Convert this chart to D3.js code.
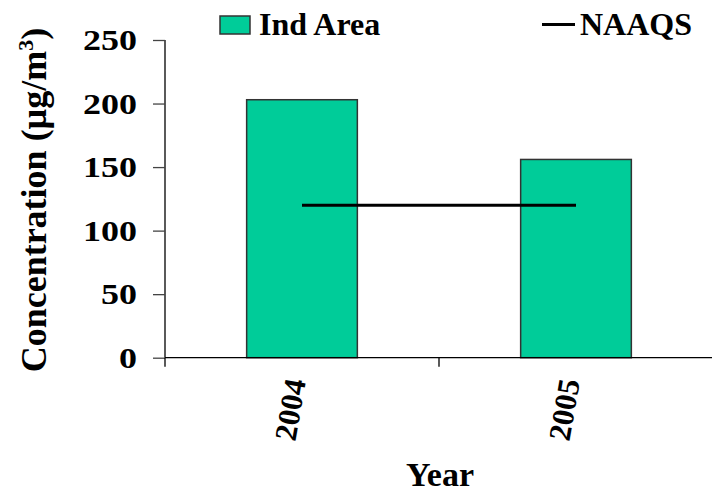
<!DOCTYPE html>
<html>
<head>
<meta charset="utf-8">
<script src="https://cdn.jsdelivr.net/npm/d3@7"></script>
<style>
  html, body { margin: 0; padding: 0; background: #fff; }
  svg { display: block; }
  text { font-family: "Liberation Serif", "Times New Roman", serif; font-weight: bold; fill: #000; }
</style>
</head>
<body>
<svg id="chart" width="712" height="494"></svg>
<script>
const years = ["2004", "2005"];
const indArea = [203, 156];
const naaqs = [120, 120];
const yTicks = [0, 50, 100, 150, 200, 250];
const seriesNames = ["Ind Area", "NAAQS"];
const yTitle = "Concentration (µg/m";
const xTitle = "Year";

const svg = d3.select("#chart");
const barColor = "#00CC99";

const x = d3.scaleBand().domain(years).range([165, 713]).padding(0);
const y = d3.scaleLinear().domain([0, 250]).range([357.7, 40]);
const barW = x.bandwidth() * 0.404;

// bars
svg.selectAll("rect.bar").data(years).enter().append("rect")
  .attr("class", "bar")
  .attr("x", d => x(d) + x.bandwidth() / 2 - barW / 2)
  .attr("y", (d, i) => y(indArea[i]))
  .attr("width", barW)
  .attr("height", (d, i) => y(0) - y(indArea[i]))
  .attr("fill", barColor)
  .attr("stroke", "#333")
  .attr("stroke-width", 1.5);

// NAAQS line
const line = d3.line()
  .x((d, i) => x(years[i]) + x.bandwidth() / 2)
  .y(d => y(d));
svg.append("path").datum(naaqs)
  .attr("d", line)
  .attr("fill", "none")
  .attr("stroke", "#000")
  .attr("stroke-width", 3);

// y axis
const yAxis = d3.axisLeft(y).tickValues(yTicks).tickSize(12).tickFormat("");
const gy = svg.append("g").attr("transform", "translate(165,0)").call(yAxis);
gy.select(".domain").attr("stroke", "#000").attr("stroke-width", 1.3).attr("d", `M0,${y(250)}V${y(0)}`);
gy.selectAll(".tick line").attr("stroke", "#444").attr("stroke-width", 1.3);

svg.selectAll("text.ytick").data(yTicks).enter().append("text")
  .attr("class", "ytick")
  .attr("transform", d => `translate(137,${y(d)}) scale(1.2,1)`)
  .attr("text-anchor", "end")
  .attr("dy", "0.34em")
  .style("font-size", "30px")
  .text(d => d);

// x axis
const gx = svg.append("g").attr("transform", `translate(0,${y(0)})`);
gx.append("line").attr("x1", 165).attr("x2", 712).attr("y1", 0).attr("y2", 0)
  .attr("stroke", "#000").attr("stroke-width", 1.3);
gx.selectAll("line.xt").data(years).enter().append("line")
  .attr("class", "xt")
  .attr("x1", d => x(d)).attr("x2", d => x(d))
  .attr("y1", 0).attr("y2", 9)
  .attr("stroke", "#000").attr("stroke-width", 1.3);

svg.selectAll("text.xtick").data(years).enter().append("text")
  .attr("class", "xtick")
  .attr("transform", d => `translate(${x(d) + x.bandwidth() / 2 + 4},381) rotate(-80)`)
  .attr("text-anchor", "end")
  .style("font-size", "31px")
  .text(d => d);

// axis titles
svg.append("text")
  .attr("x", 440).attr("y", 486)
  .attr("text-anchor", "middle")
  .style("font-size", "34px")
  .text(xTitle);

const yt = svg.append("text")
  .attr("transform", "translate(46,200) rotate(-90)")
  .attr("text-anchor", "middle")
  .style("font-size", "36px");
yt.append("tspan").text(yTitle);
yt.append("tspan").attr("dy", -13).style("font-size", "22px").text("3");
yt.append("tspan").attr("dy", 13).text(")");

// legend
svg.append("rect")
  .attr("x", 220).attr("y", 16).attr("width", 30).attr("height", 18)
  .attr("fill", barColor).attr("stroke", "#333").attr("stroke-width", 1.5);
svg.append("text").attr("x", 259).attr("y", 35).style("font-size", "32px").text(seriesNames[0]);
svg.append("line").attr("x1", 542).attr("x2", 575).attr("y1", 24.5).attr("y2", 24.5)
  .attr("stroke", "#000").attr("stroke-width", 3);
svg.append("text").attr("x", 580).attr("y", 35).style("font-size", "32px").text(seriesNames[1]);
</script>
</body>
</html>
